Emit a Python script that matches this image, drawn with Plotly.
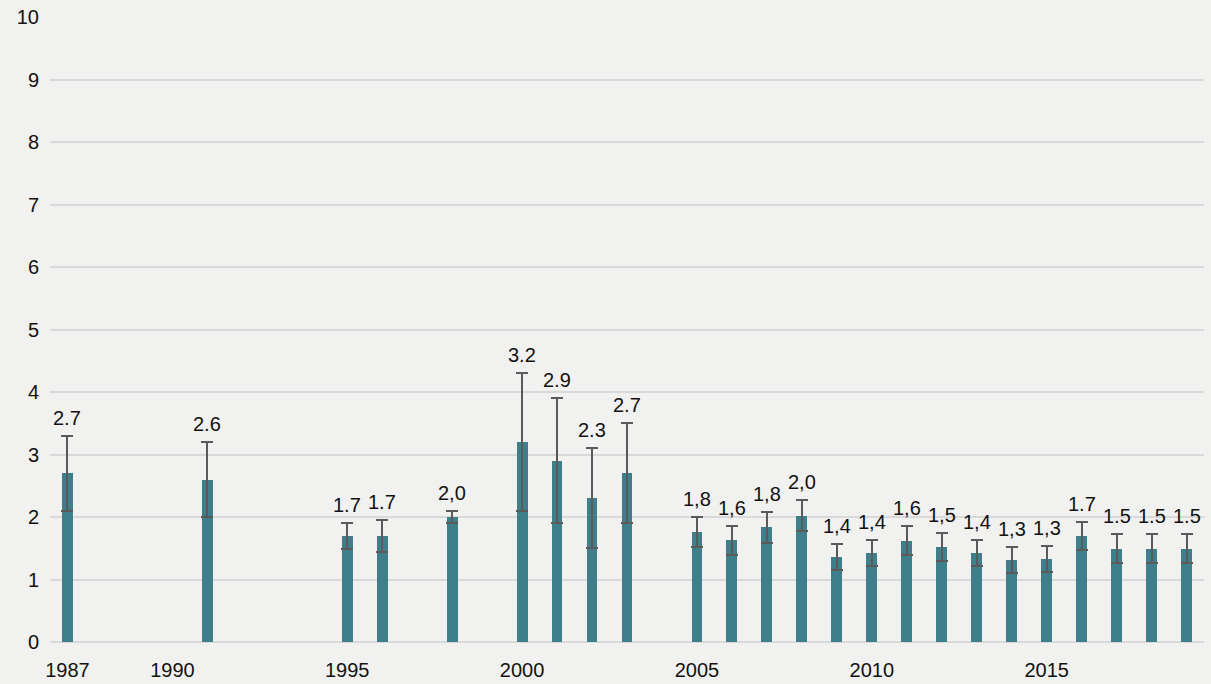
import plotly.graph_objects as go

years = [1987, 1991, 1995, 1996, 1998, 2000, 2001, 2002, 2003, 2005, 2006, 2007,
         2008, 2009, 2010, 2011, 2012, 2013, 2014, 2015, 2016, 2017, 2018, 2019]
values = [2.7, 2.6, 1.7, 1.7, 2.0, 3.2, 2.9, 2.3, 2.7, 1.76, 1.63, 1.84,
          2.02, 1.36, 1.42, 1.62, 1.52, 1.42, 1.31, 1.33, 1.70, 1.49, 1.49, 1.49]
upper = [3.3, 3.2, 1.9, 1.95, 2.1, 4.3, 3.9, 3.1, 3.5, 2.0, 1.86, 2.08,
         2.27, 1.57, 1.64, 1.86, 1.75, 1.64, 1.52, 1.54, 1.92, 1.73, 1.73, 1.73]
lower = [2.1, 2.0, 1.49, 1.44, 1.9, 2.1, 1.9, 1.5, 1.9, 1.52, 1.40, 1.59,
         1.77, 1.15, 1.21, 1.40, 1.30, 1.21, 1.10, 1.12, 1.47, 1.27, 1.27, 1.27]
labels = ["2.7", "2.6", "1.7", "1.7", "2,0", "3.2", "2.9", "2.3", "2.7", "1,8", "1,6", "1,8",
          "2,0", "1,4", "1,4", "1,6", "1,5", "1,4", "1,3", "1,3", "1.7", "1.5", "1.5", "1.5"]
tick_years = [1987, 1990, 1995, 2000, 2005, 2010, 2015]

FONT = "Liberation Sans, Arial, sans-serif"
BG = "#f1f1f0"
FS = 20

fig = go.Figure()
fig.add_trace(go.Bar(
    x=years, y=values, width=0.31,
    marker=dict(color="#3f7f8c", line=dict(width=0)),
    error_y=dict(type="data", symmetric=False,
                 array=[u - v for u, v in zip(upper, values)],
                 arrayminus=[v - l for v, l in zip(values, lower)],
                 color="#5a5a5a", thickness=2, width=6),
    hoverinfo="skip",
))

for x, u, t in zip(years, upper, labels):
    fig.add_annotation(x=x, y=u, text=t, showarrow=False, yanchor="middle",
                       yshift=18, font=dict(family=FONT, size=FS, color="#111111"))

fig.update_layout(
    width=1211, height=684,
    paper_bgcolor=BG, plot_bgcolor=BG,
    margin=dict(l=50, r=7, t=17, b=42, autoexpand=False),
    showlegend=False,
    font=dict(family=FONT, size=FS, color="#111111"),
    bargap=0,
)
fig.update_xaxes(range=[1986.5, 2019.5], tickvals=tick_years,
                 ticktext=[str(y) for y in tick_years],
                 showgrid=False, zeroline=False, showline=False, automargin=False,
                 ticks="", ticklabelstandoff=14,
                 tickfont=dict(family=FONT, size=FS, color="#111111"))
fig.update_yaxes(range=[0, 10], dtick=1, showgrid=True, gridcolor="#d9d9d9",
                 gridwidth=2, zeroline=True, zerolinecolor="#d9d9d9", zerolinewidth=2,
                 showline=False, ticks="", ticklabelstandoff=10, automargin=False,
                 tickfont=dict(family=FONT, size=FS, color="#111111"))

fig.write_html(
    "out.html",
    config={"displayModeBar": False},
    post_script="document.body.style.margin='0';document.body.style.background='#f1f1f0';document.body.style.overflow='hidden';",
)
